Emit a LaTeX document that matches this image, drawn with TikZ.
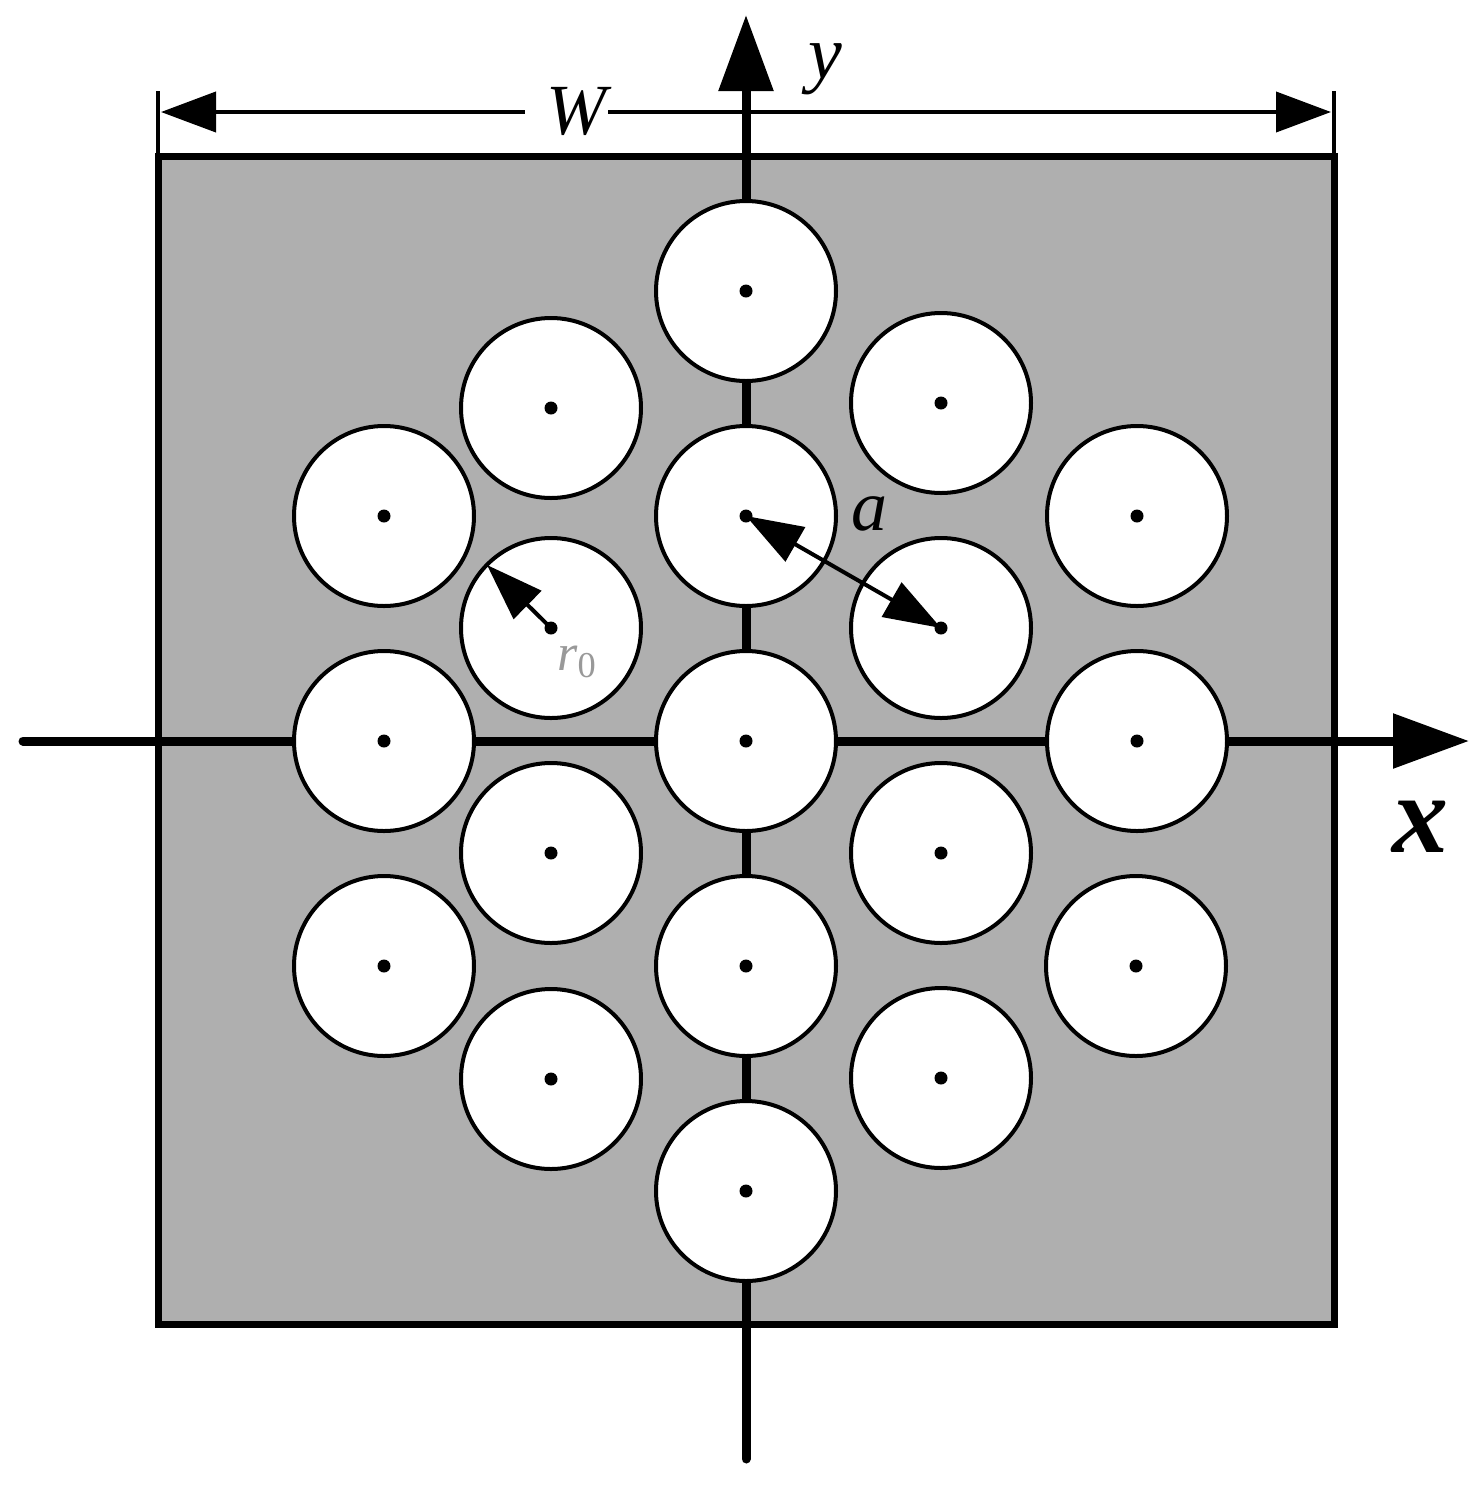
\documentclass[tikz,border=0pt]{standalone}
\usepackage{fontspec}
\setmainfont{Liberation Serif}
\usetikzlibrary{arrows.meta}
\definecolor{plate}{HTML}{AFAFAF}
\tikzset{
  plateframe/.style={draw=black,fill=plate,line width=3.5pt,line join=miter},
  axisline/.style={line width=4.5pt,line cap=round,-{Triangle[length=38pt,width=26.5pt]}},
  hole/.style={circle,draw=black,fill=white,line width=2pt,minimum size=90pt,inner sep=0pt},
  holedot/.style={circle,fill=black,minimum size=6.5pt,inner sep=0pt},
  dimline/.style={line width=2pt,-{Triangle[length=27.5pt,width=20pt]}},
  extline/.style={line width=1.75pt},
  pointer/.style={line width=2pt,-{Triangle[length=28.5pt,width=19.5pt]}},
  lbl/.style={inner sep=0pt,font=\itshape\fontsize{36}{36}\selectfont}
}
\begin{document}
\begin{tikzpicture}[x=0.5pt,y=-0.5pt]
\useasboundingbox (0,0) rectangle (1475,1485);
\node[plateframe,minimum width=588pt,minimum height=584pt,inner sep=0pt,outer sep=0pt,anchor=north west] (plate) at (158,156.5) {};
% axes
\coordinate (xs) at (23,741); \coordinate (xe) at (1469,741);
\coordinate (ys) at (746,1459); \coordinate (ye) at (746,15);
\draw[axisline] (xs) -- (xe);
\draw[axisline] (ys) -- (ye);
% holes
\foreach \i/\px/\py in {1/746/291,2/551/408,3/941/403,4/384/516,5/746/516,6/1137/516,7/551/628,8/941/628,9/384/741,10/746/741,11/1137/741,12/551/853,13/941/853,14/384/966,15/746/966,16/1136/966,17/551/1079,18/941/1078,19/746/1191}{
  \node[hole] (c\i) at (\px,\py) {};
  \node[holedot] (d\i) at (\px,\py) {};
}
% dimension W
\node[lbl,minimum width=41.5pt,minimum height=24pt] (W) at (566.5,112) {\hspace{10pt}\raisebox{1.5pt}{W}};
\coordinate (wl) at (161,112); \coordinate (wr) at (1331,112);
\coordinate (e1a) at (158,91); \coordinate (e1b) at (158,156);
\coordinate (e2a) at (1334,91); \coordinate (e2b) at (1334,156);
\draw[extline] (e1a) -- (e1b);
\draw[extline] (e2a) -- (e2b);
\draw[dimline] (W) -- (wl);
\draw[dimline] (W) -- (wr);
% pointers
\coordinate (rt) at (487,565);
\draw[pointer] (d7.center) -- (rt);
\draw[pointer,{Triangle[length=28.5pt,width=19.5pt]}-{Triangle[length=28.5pt,width=19.5pt]}] (d5.center) -- (d8.center);
% labels
\node[inner sep=0pt,font=\itshape\fontsize{38}{38}\selectfont] (ylab) at (825,69) {y};
\node[lbl] (alab) at (869,514) {a};
\node[inner sep=0pt,font=\bfseries\itshape\fontsize{56}{56}\selectfont] (xlab) at (1420,827) {x};
\node[inner sep=0pt,text=black!40,font=\itshape\fontsize{26}{26}\selectfont] (rlab) at (577,662) {r$_{\mathrm{0}}$};
\end{tikzpicture}
\end{document}
